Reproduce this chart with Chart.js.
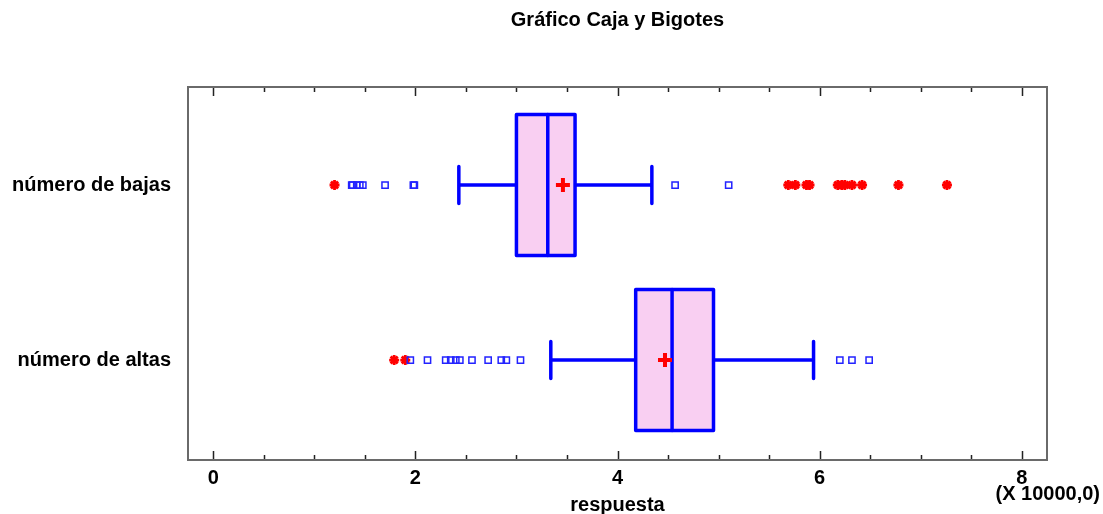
<!DOCTYPE html>
<html>
<head>
<meta charset="utf-8">
<script src="https://cdn.jsdelivr.net/npm/chart.js@4.4.1/dist/chart.umd.min.js"></script>
<style>
  html, body { margin: 0; padding: 0; background: #ffffff; }
  canvas { display: block; }
</style>
</head>
<body>
<canvas id="c" width="1103" height="514"></canvas>
<script>
// Box-and-whisker summary for the two variables (values in units of 10000)
const chartTitle   = 'Gráfico Caja y Bigotes';
const categories   = ['número de bajas', 'número de altas'];
const categoryPos  = [1, 0];
const whiskerLow   = [2.43, 3.34];
const quartile1    = [3.00, 4.18];
const medians      = [3.31, 4.54];
const quartile3    = [3.58, 4.95];
const whiskerHigh  = [4.34, 5.94];
const means        = [3.46, 4.47];

// Outside points (hollow squares) and far outside points (red asterisks)
const nearOutliersBajas = [1.37, 1.38, 1.42, 1.45, 1.48, 1.70, 1.98, 1.99, 4.57, 5.10];
const farOutliersBajas  = [1.20, 5.69, 5.76, 5.87, 5.90, 6.18, 6.22, 6.25, 6.32, 6.42, 6.78, 7.26];
const nearOutliersAltas = [1.95, 2.12, 2.30, 2.35, 2.40, 2.44, 2.56, 2.72, 2.85, 2.90, 3.04, 6.20, 6.32, 6.49];
const farOutliersAltas  = [1.79, 1.90];

// Axis ticks
const xTickLabels = [0, 2, 4, 6, 8];
const xMinorTicks = [0.5, 1, 1.5, 2.5, 3, 3.5, 4.5, 5, 5.5, 6.5, 7, 7.5];
const xScaleNote  = '(X 10000,0)';

const FONT = { family: "'Liberation Sans', Arial, sans-serif", size: 20, weight: 'bold' };
const FONT_CSS = "bold 20px 'Liberation Sans', Arial, sans-serif";
const BOX_HALF = 0.403;   // half box height, in y units
const CAP_HALF = 0.106;   // half whisker cap height, in y units
const BLUE = '#0000ff';
const PINK = '#f9cff2';

const toPoints = (vals, pos) => vals.map(v => ({ x: v, y: pos }));

// Boxes, whiskers and medians drawn through the chart scales
const boxPlugin = {
  id: 'boxes',
  beforeDatasetsDraw(chart) {
    const { ctx, scales: { x, y } } = chart;
    ctx.save();
    ctx.lineJoin = 'round';
    ctx.lineCap = 'round';
    ctx.strokeStyle = BLUE;
    ctx.lineWidth = 3.5;
    categories.forEach((_, i) => {
      const yc = y.getPixelForValue(categoryPos[i]);
      const yt = y.getPixelForValue(categoryPos[i] + BOX_HALF);
      const yb = y.getPixelForValue(categoryPos[i] - BOX_HALF);
      const ct = y.getPixelForValue(categoryPos[i] + CAP_HALF);
      const cb = y.getPixelForValue(categoryPos[i] - CAP_HALF);
      const xl = x.getPixelForValue(whiskerLow[i]);
      const x1 = x.getPixelForValue(quartile1[i]);
      const xm = x.getPixelForValue(medians[i]);
      const x3 = x.getPixelForValue(quartile3[i]);
      const xh = x.getPixelForValue(whiskerHigh[i]);

      // whiskers
      ctx.beginPath();
      ctx.moveTo(xl, yc); ctx.lineTo(x1, yc);
      ctx.moveTo(x3, yc); ctx.lineTo(xh, yc);
      ctx.moveTo(xl, ct); ctx.lineTo(xl, cb);
      ctx.moveTo(xh, ct); ctx.lineTo(xh, cb);
      ctx.stroke();

      // box
      ctx.fillStyle = PINK;
      ctx.fillRect(x1, yt, x3 - x1, yb - yt);
      ctx.strokeRect(x1, yt, x3 - x1, yb - yt);

      // median
      ctx.beginPath();
      ctx.moveTo(xm, yt); ctx.lineTo(xm, yb);
      ctx.stroke();
    });
    ctx.restore();
  }
};

// Title centred over the plot, frame, inward tick marks and the axis multiplier note
const framePlugin = {
  id: 'frame',
  afterDraw(chart) {
    const { ctx, chartArea: a, scales: { x } } = chart;
    ctx.save();
    ctx.strokeStyle = '#222222';
    ctx.lineWidth = 1.5;
    const drawTick = (v, len) => {
      const px = Math.round(x.getPixelForValue(v)) + 0.5;
      ctx.beginPath();
      ctx.moveTo(px, a.bottom); ctx.lineTo(px, a.bottom - len);
      ctx.moveTo(px, a.top); ctx.lineTo(px, a.top + len);
      ctx.stroke();
    };
    xTickLabels.forEach(v => drawTick(v, 9));
    xMinorTicks.forEach(v => drawTick(v, 5));

    ctx.strokeStyle = '#6a6a6a';
    ctx.lineWidth = 2;
    ctx.strokeRect(a.left, a.top, a.right - a.left, a.bottom - a.top);

    ctx.fillStyle = '#000000';
    ctx.font = FONT_CSS;
    ctx.textBaseline = 'middle';
    ctx.textAlign = 'center';
    ctx.fillText(chartTitle, (a.left + a.right) / 2, 20);
    ctx.textAlign = 'right';
    ctx.fillText(xScaleNote, 1100, 494);
    ctx.restore();
  }
};

new Chart(document.getElementById('c'), {
  type: 'scatter',
  data: {
    datasets: [
      {
        label: 'media',
        data: means.map((m, i) => ({ x: m, y: categoryPos[i] })),
        pointStyle: 'cross',
        radius: 7,
        borderWidth: 4,
        borderColor: '#ff0000',
        backgroundColor: '#ff0000'
      },
      {
        label: 'puntos fuera',
        data: toPoints(nearOutliersBajas, categoryPos[0]).concat(toPoints(nearOutliersAltas, categoryPos[1])),
        pointStyle: 'rect',
        radius: 4.4,
        borderWidth: 1.5,
        borderColor: '#2323ff',
        backgroundColor: 'rgba(255,255,255,0)'
      },
      {
        label: 'puntos muy fuera',
        data: toPoints(farOutliersBajas, categoryPos[0]).concat(toPoints(farOutliersAltas, categoryPos[1])),
        pointStyle: 'star',
        radius: 5,
        borderWidth: 2.8,
        borderColor: '#ff0000',
        backgroundColor: '#ff0000'
      }
    ]
  },
  options: {
    responsive: false,
    animation: false,
    events: [],
    layout: { padding: { left: 0, right: 56, top: 87, bottom: 0 } },
    plugins: {
      legend: { display: false },
      tooltip: { enabled: false },
      title: { display: false }
    },
    scales: {
      x: {
        type: 'linear',
        min: -0.25,
        max: 8.25,
        grid: { display: false, drawTicks: false },
        border: { display: false },
        afterBuildTicks: s => { s.ticks = xTickLabels.map(v => ({ value: v })); },
        afterFit: s => { s.height = 54; },
        ticks: {
          color: '#000000',
          font: FONT,
          padding: 6,
          maxRotation: 0,
          autoSkip: false,
          callback: v => String(v)
        },
        title: {
          display: true,
          text: 'respuesta',
          color: '#000000',
          font: FONT,
          padding: { top: 0, bottom: -3 }
        }
      },
      y: {
        type: 'linear',
        min: -0.571,
        max: 1.56,
        grid: { display: false, drawTicks: false },
        border: { display: false },
        afterBuildTicks: s => { s.ticks = categoryPos.map(v => ({ value: v })); },
        afterFit: s => { s.width = 188; },
        ticks: {
          color: '#000000',
          font: FONT,
          padding: 17,
          autoSkip: false,
          callback: v => categories[categoryPos.indexOf(v)]
        }
      }
    }
  },
  plugins: [boxPlugin, framePlugin]
});
</script>
</body>
</html>
